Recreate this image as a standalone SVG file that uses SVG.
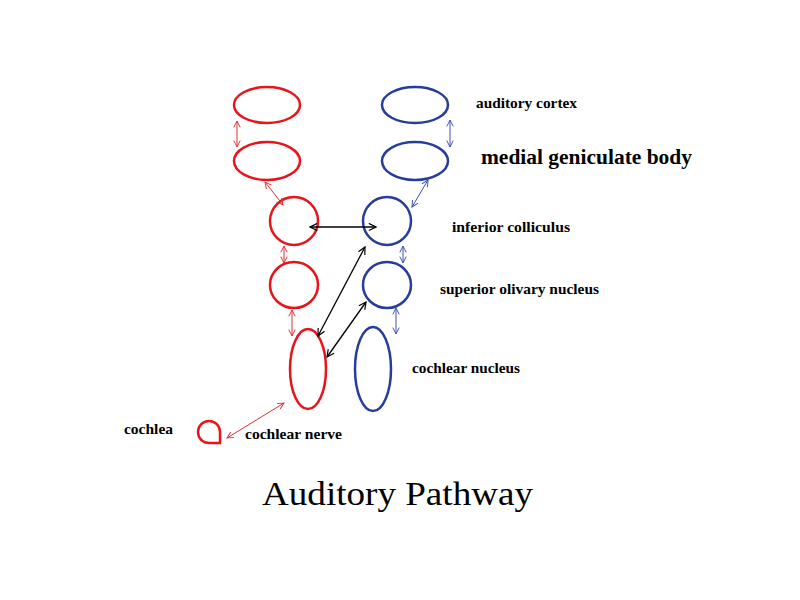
<svg xmlns="http://www.w3.org/2000/svg" width="800" height="600" viewBox="0 0 800 600">
<defs>
<marker id="hr" viewBox="0 0 10 10" refX="9" refY="5" markerWidth="8" markerHeight="8" orient="auto-start-reverse" markerUnits="userSpaceOnUse"><path d="M1,1 L9,5 L1,9" fill="none" stroke="#e03030" stroke-width="1.2"/></marker>
<marker id="hb" viewBox="0 0 10 10" refX="9" refY="5" markerWidth="8" markerHeight="8" orient="auto-start-reverse" markerUnits="userSpaceOnUse"><path d="M1,1 L9,5 L1,9" fill="none" stroke="#4050b0" stroke-width="1.2"/></marker>
<marker id="hk" viewBox="0 0 10 10" refX="9" refY="5" markerWidth="9" markerHeight="9" orient="auto-start-reverse" markerUnits="userSpaceOnUse"><path d="M1,1 L9,5 L1,9" fill="none" stroke="#000" stroke-width="1.3"/></marker>
</defs>
<style>
.r{fill:none;stroke:#e8141c;stroke-width:2.5}
.b{fill:none;stroke:#283c9c;stroke-width:2.5}
.ar{stroke:#e03030;stroke-width:1;fill:none;marker-start:url(#hr);marker-end:url(#hr)}
.ab{stroke:#4050b0;stroke-width:1;fill:none;marker-start:url(#hb);marker-end:url(#hb)}
.ak{stroke:#000;stroke-width:1.3;fill:none;marker-start:url(#hk);marker-end:url(#hk)}
.t{font-family:"Liberation Serif",serif;font-weight:bold;fill:#000}
</style>
<rect width="800" height="600" fill="#fff"/>
<g id="red-cortex"><ellipse class="r" cx="267" cy="105" rx="33" ry="18"/></g>
<g id="red-mgb"><ellipse class="r" cx="267" cy="161" rx="33" ry="19"/></g>
<g id="red-ic"><ellipse class="r" cx="294" cy="221" rx="24" ry="24"/></g>
<g id="red-son"><ellipse class="r" cx="294" cy="285" rx="24" ry="23"/></g>
<g id="red-cn"><ellipse class="r" cx="308" cy="369" rx="18" ry="40"/></g>
<g id="blue-cortex"><ellipse class="b" cx="415" cy="105" rx="33" ry="18"/></g>
<g id="blue-mgb"><ellipse class="b" cx="415" cy="161" rx="33" ry="19"/></g>
<g id="blue-ic"><ellipse class="b" cx="387" cy="221" rx="24" ry="24"/></g>
<g id="blue-son"><ellipse class="b" cx="387" cy="285" rx="24" ry="23"/></g>
<g id="blue-cn"><ellipse class="b" cx="373" cy="369" rx="18" ry="42"/></g>
<g id="cochlea"><path class="r" d="M220,443 L209,443 A11,11 0 1 1 220,432 Z"/></g>
<g id="connectors">
<line class="ar" x1="237" y1="121" x2="237" y2="147"/>
<line class="ab" x1="450" y1="120" x2="450" y2="147"/>
<line class="ar" x1="265" y1="182" x2="283" y2="205"/>
<line class="ab" x1="428" y1="180" x2="412" y2="207"/>
<line class="ar" x1="284" y1="246" x2="284" y2="263"/>
<line class="ab" x1="403" y1="246" x2="403" y2="263"/>
<line class="ar" x1="292" y1="310" x2="292" y2="336"/>
<line class="ab" x1="396" y1="308" x2="396" y2="334"/>
<line class="ak" x1="310" y1="227" x2="376" y2="227"/>
<line class="ak" x1="318" y1="336" x2="365" y2="247"/>
<line class="ak" x1="327" y1="357" x2="366" y2="302"/>
<line class="ar" x1="227" y1="438" x2="284" y2="403"/>
</g>
<g id="labels">
<text class="t" x="476" y="108" font-size="14" textLength="101" lengthAdjust="spacingAndGlyphs">auditory cortex</text>
<text class="t" x="481" y="164" font-size="20" textLength="211" lengthAdjust="spacingAndGlyphs">medial geniculate body</text>
<text class="t" x="452" y="232" font-size="14" textLength="118" lengthAdjust="spacingAndGlyphs">inferior colliculus</text>
<text class="t" x="440" y="294" font-size="14" textLength="159" lengthAdjust="spacingAndGlyphs">superior olivary nucleus</text>
<text class="t" x="412" y="373" font-size="14" textLength="108" lengthAdjust="spacingAndGlyphs">cochlear nucleus</text>
<text class="t" x="124" y="434" font-size="14" textLength="49" lengthAdjust="spacingAndGlyphs">cochlea</text>
<text class="t" x="245" y="439" font-size="14" textLength="97" lengthAdjust="spacingAndGlyphs">cochlear nerve</text>
<text x="262" y="505" font-family="Liberation Serif,serif" font-size="33" fill="#000" textLength="271" lengthAdjust="spacingAndGlyphs">Auditory Pathway</text>
</g>
</svg>
